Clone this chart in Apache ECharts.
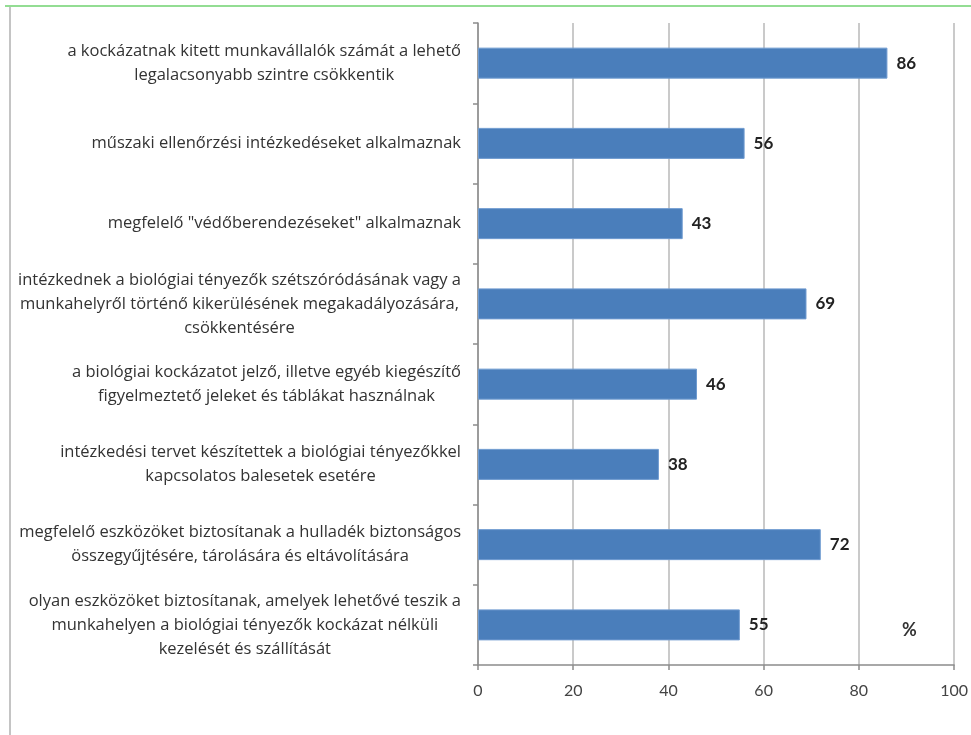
<!DOCTYPE html>
<html><head><meta charset="utf-8">
<script src="https://cdn.jsdelivr.net/npm/echarts@6/dist/echarts.min.js"></script>
<style>html,body{margin:0;padding:0;background:#fff}#c{width:971px;height:735px}</style>
</head><body><div id="c"></div>
<script>
const categories = [
  "a kockázatnak kitett munkavállalók számát a lehető\nlegalacsonyabb szintre csökkentik",
  "műszaki ellenőrzési intézkedéseket alkalmaznak",
  "megfelelő \"védőberendezéseket\" alkalmaznak",
  "intézkednek a biológiai tényezők szétszóródásának vagy a\nmunkahelyről történő kikerülésének megakadályozására,\ncsökkentésére",
  "a biológiai kockázatot jelző, illetve egyéb kiegészítő\nfigyelmeztető jeleket és táblákat használnak",
  "intézkedési tervet készítettek a biológiai tényezőkkel\nkapcsolatos balesetek esetére",
  "megfelelő eszközöket biztosítanak a hulladék biztonságos\nösszegyűjtésére, tárolására és eltávolítására",
  "olyan eszközöket biztosítanak, amelyek lehetővé teszik a\nmunkahelyen a biológiai tényezők kockázat nélküli\nkezelését és szállítását"
];
const values = [86, 56, 43, 69, 46, 38, 72, 55];
const xTicks = [0, 20, 40, 60, 80, 100];
const unitLabel = "%";

const chart = echarts.init(document.getElementById('c'));
chart.setOption({
  animation: false,
  backgroundColor: '#fff',
  grid: { left: 478, right: 16, top: 23, bottom: 70, containLabel: false },
  xAxis: {
    type: 'value', min: xTicks[0], max: xTicks[xTicks.length - 1], interval: 20,
    axisLine: { show: true, lineStyle: { color: '#8c8c8c', width: 1.5 } },
    axisTick: { show: true, length: 5, lineStyle: { color: '#8c8c8c', width: 1.5 } },
    axisLabel: { color: '#444', fontSize: 16, fontFamily: 'Lato', margin: 18 },
    splitLine: { show: true, lineStyle: { color: '#b8b8b8', width: 1.5 } }
  },
  yAxis: {
    type: 'category', data: categories, inverse: true,
    axisLine: { show: true, lineStyle: { color: '#8c8c8c', width: 1.5 } },
    axisTick: { show: true, length: 5, lineStyle: { color: '#8c8c8c', width: 1.5 } },
    axisLabel: {
      margin: 17, align: 'right',
      formatter: function (v) { return v.split('\n').map(s => '{a|' + s + '}').join('\n'); },
      rich: { a: { align: 'center', color: '#333', fontSize: 16.5, fontFamily: 'Open Sans', lineHeight: 24 } }
    }
  },
  series: [{
    type: 'bar', data: values, barWidth: 31,
    itemStyle: { color: '#4a7ebb', borderColor: '#6f9bd0', borderWidth: 1 },
    label: { show: true, position: 'right', distance: 9, color: '#222', fontWeight: 'bold', fontSize: 17, fontFamily: 'Lato' }
  }],
  graphic: [
    { type: 'line', shape: { x1: 5, y1: 6, x2: 971, y2: 6 }, style: { stroke: '#93dd93', lineWidth: 2 } },
    { type: 'line', shape: { x1: 10, y1: 7, x2: 10, y2: 735 }, style: { stroke: '#c4c4c4', lineWidth: 2 } },
    { type: 'text', left: 902, top: 621, style: { text: unitLabel, fontSize: 18, fontWeight: 'bold', fill: '#333', fontFamily: 'Lato' } }
  ]
});
</script></body></html>
